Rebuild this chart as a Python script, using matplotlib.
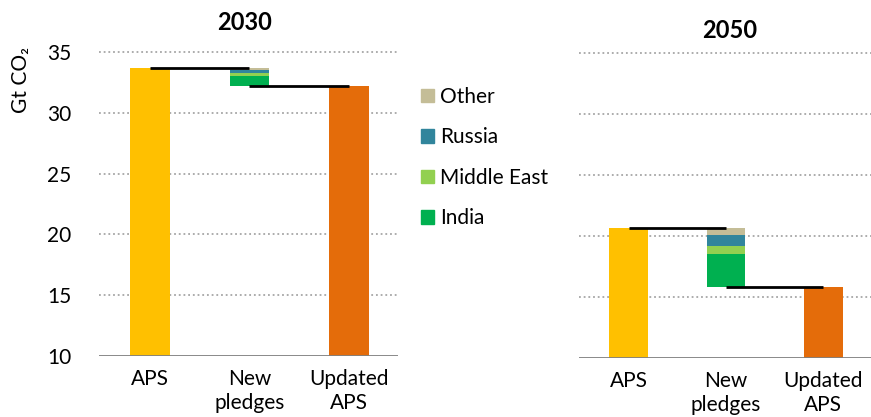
import matplotlib
matplotlib.use("Agg")
import matplotlib.pyplot as plt
from matplotlib.patches import Patch

plt.rcParams['font.family'] = ['Lato', 'DejaVu Sans']

categories = ["APS", "New\npledges", "Updated\nAPS"]
years = ["2030", "2050"]
aps = [33.7, 20.7]
updated = [32.2, 15.85]
components = ["India", "Middle East", "Russia", "Other"]
india = [0.8, 2.7]
middle_east = [0.25, 0.65]
russia = [0.25, 0.9]
other = [0.2, 0.6]
yticks = [10, 15, 20, 25, 30, 35]

col_aps = "#FFC000"
col_upd = "#E46C0A"
comp_colors = {"India": "#00B050", "Middle East": "#92D050", "Russia": "#31859C", "Other": "#C4BD97"}
comp_vals = {"India": india, "Middle East": middle_east, "Russia": russia, "Other": other}

W, H = 871, 417
fig = plt.figure(figsize=(W / 100, H / 100), dpi=100)

def px_axes(x0, x1, ybot, ppu, ylim):
    h = (ylim[1] - ylim[0]) * ppu
    return fig.add_axes([x0 / W, (H - ybot) / H, (x1 - x0) / W, h / H])

ylim = (10, 36)
axL = px_axes(99, 398, 356, 12.16, ylim)
axR = px_axes(579, 871, 358, 12.18, ylim)

fs = 15
for i, ax in enumerate([axL, axR]):
    ax.set_ylim(*ylim)
    ax.set_xlim(-0.51, 2.49)
    for y in yticks[1:]:
        ax.axhline(y, color="#A6A6A6", lw=1.3, ls=(0, (1, 1.6)), zorder=0)
    ax.axhline(10, color="#808080", lw=1.3, zorder=3)
    w = 0.4
    ax.bar(0, aps[i] - 10, bottom=10, width=w, color=col_aps, zorder=2)
    ax.bar(2, updated[i] - 10, bottom=10, width=w, color=col_upd, zorder=2)
    bottom = updated[i]
    for c in components:
        v = comp_vals[c][i]
        ax.bar(1, v, bottom=bottom, width=w, color=comp_colors[c], zorder=2)
        bottom += v
    ax.plot([0, 1], [aps[i], aps[i]], color="black", lw=2, zorder=4, solid_capstyle="butt")
    ax.plot([1, 2], [updated[i], updated[i]], color="black", lw=2, zorder=4, solid_capstyle="butt")
    for s in ax.spines.values():
        s.set_visible(False)
    ax.set_xticks(range(3))
    ax.set_xticklabels(categories, fontsize=fs, linespacing=1.25)
    ax.tick_params(axis="x", length=0, pad=9.5)
    ax.tick_params(axis="y", length=0)
    ax.set_yticks(yticks)
    if i == 0:
        ax.set_yticklabels([str(t) for t in yticks], fontsize=fs)
        ax.tick_params(axis="y", pad=20)
    else:
        ax.set_yticklabels([])

fig.text(245 / W, 1 - 23 / H, years[0], ha="center", va="center", fontsize=17, fontweight="bold")
fig.text(730 / W, 1 - 31 / H, years[1], ha="center", va="center", fontsize=17, fontweight="bold")
fig.text(21 / W, 1 - 80 / H, "Gt CO₂", rotation=90, ha="center", va="center", fontsize=15)

handles = [Patch(color=comp_colors[c], label=c) for c in ["Other", "Russia", "Middle East", "India"]]
fig.legend(handles=handles, loc="upper left", bbox_to_anchor=(421 / W, 1 - 87 / H),
           frameon=False, fontsize=fs, handlelength=0.6, handleheight=0.6,
           handletextpad=0.3, labelspacing=0.98, borderaxespad=0, borderpad=0)

fig.savefig("out.png", dpi=100)
